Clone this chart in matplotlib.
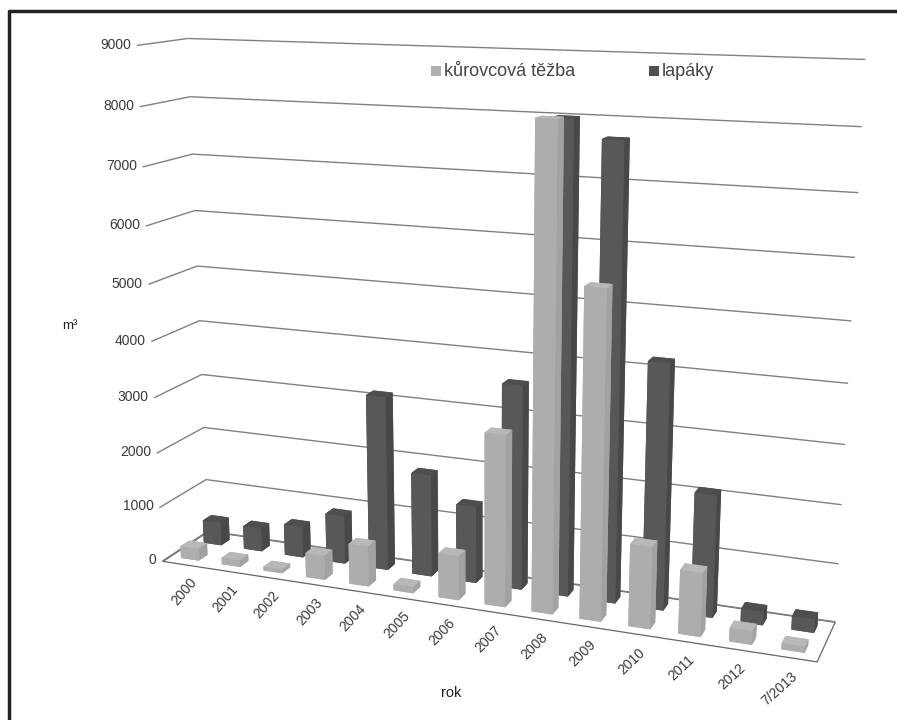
import numpy as np
import matplotlib as mpl
from matplotlib import pyplot as plt
from matplotlib.lines import Line2D
from mpl_toolkits.mplot3d import Axes3D

plt.rcParams['font.family'] = ['Liberation Sans', 'DejaVu Sans']

years = ['2000', '2001', '2002', '2003', '2004', '2005', '2006', '2007',
         '2008', '2009', '2010', '2011', '2012', '7/2013']
kurovcova = [220, 120, 70, 440, 720, 110, 780, 2970, 8080, 5520, 1400, 1080, 230, 100]
lapaky = [430, 430, 570, 880, 3130, 1830, 1370, 3580, 8000, 7700, 4200, 2100, 230, 230]
yticks = list(range(0, 10000, 1000))

light_faces = ['#a8a8a8', '#b8b8b8', '#adadad', '#adadad', '#a2a2a2', '#a2a2a2']
dark_faces = ['#454545', '#4e4e4e', '#585858', '#585858', '#484848', '#484848']

fig = plt.figure(figsize=(8.97, 7.2), dpi=100)
ax = fig.add_axes([-0.034, -0.087, 1.12, 1.22], projection='3d', computed_zorder=False)
ax.set_proj_type('persp', focal_length=0.36)
ax.view_init(elev=14, azim=-69)
ax.set_box_aspect((2.6, 0.36, 2.03))

n = len(years)
xs = np.arange(n)
w = 0.44
d = 0.38
ax.set_xlim(-0.5, n - 0.5)
ax.set_ylim(0, 2)
ax.set_zlim(0, 9000)
ax.set_axis_off()

# floor and grid lines
ax.plot_surface(np.array([[-0.5, n - 0.5], [-0.5, n - 0.5]]), np.array([[0, 0], [2, 2]]),
                np.zeros((2, 2)), color='white', edgecolor='#666666', linewidth=0.9, shade=False, zorder=0)
for v in yticks:
    ax.plot([-0.5, -0.5, n - 0.5], [0, 2, 2], [v, v, v], color='#808080', lw=1.0, zorder=1)

# back row first, right to left, so nearer bars overlap
for i in range(n)[::-1]:
    ax.bar3d(xs[i] - w / 2, 1.3, 0, w, d, lapaky[i], color=dark_faces, shade=False, zorder=2 + (n - i) * 0.01)
for i in range(n)[::-1]:
    ax.bar3d(xs[i] - w / 2, 0.3, 0, w, d, kurovcova[i], color=light_faces, shade=False, zorder=3 + (n - i) * 0.01)

# zdir sets the text angle in 3d, this gives about 45 degrees on screen
for i, lab in enumerate(years):
    ax.text(xs[i] * 0.97 + 0.67, -0.45, 0, lab, zdir=(0.01, 0, 9.8), ha='right', va='top', fontsize=10, color='#3a3a3a')
for v in yticks:
    ax.text(-0.65, 0, v, str(v), ha='right', va='center', fontsize=10, color='#3a3a3a')

# frame only on top and left, labels outside the 3d box
fig.add_artist(Line2D([9 / 897, 9 / 897, 1], [0, 1 - 11 / 720, 1 - 11 / 720], color='#222222', lw=2.5))
fig.text(62 / 897, 1 - 326 / 720, 'm³', fontsize=9.5, va='center', color='#222222')
fig.text(451 / 897, 1 - 693 / 720, 'rok', fontsize=10.5, ha='center', va='center', color='#222222')
fig.add_artist(plt.Rectangle((431 / 897, 1 - 76 / 720), 10 / 897, 10 / 720, fc='#b0b0b0', ec='none'))
fig.text(444 / 897, 1 - 71 / 720, 'kůrovcová těžba', fontsize=13, va='center', color='#444444')
fig.add_artist(plt.Rectangle((649 / 897, 1 - 76 / 720), 10 / 897, 10 / 720, fc='#505050', ec='none'))
fig.text(662 / 897, 1 - 71 / 720, 'lapáky', fontsize=13, va='center', color='#444444')

plt.savefig('out.png', dpi=100)
